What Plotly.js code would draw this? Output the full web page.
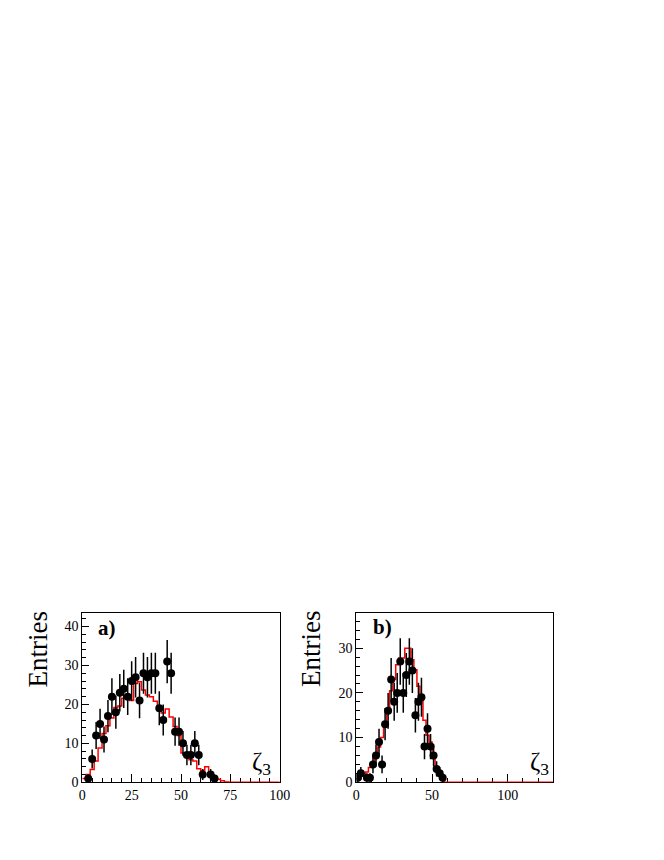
<!DOCTYPE html>
<html>
<head>
<meta charset="utf-8">
<script src="https://cdn.plot.ly/plotly-3.0.1.min.js"></script>
<style>html,body{margin:0;padding:0;background:#fff;}#chart{width:664px;height:860px;}</style>
</head>
<body>
<div id="chart"></div>
<script>
// ---- Panel a) data (bin width 2) ----
const aCenters = [3,5,7,9,11,13,15,17,19,21,23,25,27,29,31,33,35,37,39,41,43,45,47,49,51,53,55,57,59,61,65,67];
const aCounts  = [1,6,12,15,11,17,22,18,23,24,22,26,27,21,28,27,28,28,19,16,31,28,13,13,10,7,7,10,7,2,2,1];
const aErrors  = [1,2.45,3.46,3.87,3.32,4.12,4.69,4.24,4.80,4.90,4.69,5.10,5.20,4.58,5.29,5.20,5.29,5.29,4.36,4.00,5.57,5.29,3.61,3.61,3.16,2.65,2.65,3.16,2.65,1.41,1.41,1.00];
// simulation histogram, bins of width 2 from 0 to 100
const aMC = [1.0,2.0,3.3,5.5,8.8,12.5,14.5,16.5,19.2,19.6,21.6,21.5,21.0,25.4,25.8,23.7,22.4,22.0,20.8,19.0,
             17.8,18.8,16.8,14.3,12.0,7.5,7.3,5.8,5.5,3.5,3.0,4.0,2.5,1.5,0.8,0.4,0.1,0,0,0,
             0,0,0,0,0,0,0,0,0,0];

// ---- Panel b) data (bin width 2) ----
const bCenters = [1,3,7,9,11,13,15,17,19,21,23,25,27,29,31,33,35,37,39,41,43,45,47,49,51,53,55,57];
const bCounts  = [1,2,1,1,4,6,9,4,13,16,23,18,20,27,20,24,27,25,15,18,19,8,12,8,6,3,2,1];
const bErrors  = [1,1.41,1,1,2,2.45,3,2,3.61,4,4.80,4.24,4.47,5.20,4.47,4.90,5.20,5,3.87,4.24,4.36,2.83,3.46,2.83,2.45,1.73,1.41,1];
// simulation histogram, bins of width 2 from 0 to 130
const bMC = [0.8,1.6,1.6,2.3,3.3,4.5,6.0,7.9,10.0,13.1,16.1,20.5,23.0,26.3,27.8,27.8,30.0,30.0,27.4,25.2,
             21.5,18.3,13.9,10.5,9.0,5.3,3.1,1.6,0.4,0,0,0,0,0,0,0,0,0,0,0,
             0,0,0,0,0,0,0,0,0,0,0,0,0,0,0,0,0,0,0,0,0,0,0,0,0];

const binWidth = 2;
const aTicks = {dtick: 25, minor: 5};
const bTicks = {dtick: 50, minor: 10};

function edgesFor(mc) {
  const xs = [], ys = [];
  for (let i = 0; i < mc.length; i++) { xs.push(i * binWidth); ys.push(mc[i]); }
  xs.push(mc.length * binWidth); ys.push(mc[mc.length - 1]);
  return {xs, ys};
}
const aStep = edgesFor(aMC), bStep = edgesFor(bMC);

const W = 664, H = 860;
const serif = "'Liberation Serif', 'Times New Roman', Times, serif";

const traces = [
  {x: aStep.xs, y: aStep.ys, xaxis: 'x', yaxis: 'y', mode: 'lines', line: {shape: 'hv', color: '#ff0000', width: 1.5}, hoverinfo: 'skip'},
  {x: aCenters, y: aCounts, xaxis: 'x', yaxis: 'y', mode: 'markers', marker: {color: '#000', size: 8},
   error_y: {type: 'data', array: aErrors, visible: true, color: '#000', thickness: 1.5, width: 0}},
  {x: bStep.xs, y: bStep.ys, xaxis: 'x2', yaxis: 'y2', mode: 'lines', line: {shape: 'hv', color: '#ff0000', width: 1.5}, hoverinfo: 'skip'},
  {x: bCenters, y: bCounts, xaxis: 'x2', yaxis: 'y2', mode: 'markers', marker: {color: '#000', size: 8},
   error_y: {type: 'data', array: bErrors, visible: true, color: '#000', thickness: 1.5, width: 0}}
];

function xAxis(domain, range, t, anchor) {
  return {domain: domain, range: range, anchor: anchor, tickmode: 'linear', tick0: 0, dtick: t.dtick,
    ticks: 'inside', ticklen: 8, tickwidth: 1, tickcolor: '#000',
    minor: {dtick: t.minor, tick0: 0, ticks: 'inside', ticklen: 4, tickwidth: 1, tickcolor: '#000', showgrid: false},
    showline: true, mirror: true, linecolor: '#000', linewidth: 1, showgrid: false, zeroline: false,
    layer: 'below traces', tickfont: {family: serif, size: 14, color: '#000'}, fixedrange: true};
}
function yAxis(domain, range, anchor) {
  return {domain: domain, range: range, anchor: anchor, tickmode: 'linear', tick0: 0, dtick: 10,
    ticks: 'inside', ticklen: 7, tickwidth: 1, tickcolor: '#000',
    minor: {dtick: 2, tick0: 0, ticks: 'inside', ticklen: 4, tickwidth: 1, tickcolor: '#000', showgrid: false},
    showline: true, mirror: true, linecolor: '#000', linewidth: 1, showgrid: false, zeroline: false,
    layer: 'below traces', tickfont: {family: serif, size: 14, color: '#000'}, fixedrange: true};
}
const yDom = [1 - 782.3 / H, 1 - 613.3 / H];

function ann(text, px, py, size, extra) {
  return Object.assign({text: text, x: px / W, y: 1 - py / H, xref: 'paper', yref: 'paper', showarrow: false,
    font: {family: serif, size: size, color: '#000'}, xanchor: 'center', yanchor: 'middle'}, extra || {});
}

const layout = {
  width: W, height: H, margin: {l: 0, r: 0, t: 0, b: 0},
  paper_bgcolor: '#fff', plot_bgcolor: '#fff', showlegend: false,
  font: {family: serif, color: '#000'},
  xaxis: xAxis([82.3 / W, 279.7 / W], [0, 100], aTicks, 'y'),
  yaxis: yAxis(yDom, [0, 43.4], 'x'),
  xaxis2: xAxis([356.3 / W, 553.3 / W], [0, 130], bTicks, 'y2'),
  yaxis2: yAxis(yDom, [0, 37.8], 'x2'),
  annotations: [
    ann('Entries', 37, 649.5, 27, {textangle: -90}),
    ann('Entries', 310.5, 649.5, 27, {textangle: -90}),
    ann('<b>a)</b>', 107.5, 628, 21),
    ann('<b>b)</b>', 382.5, 627, 21),
    ann('ζ<sub>3</sub>', 261, 763, 25),
    ann('ζ<sub>3</sub>', 539, 763, 25)
  ]
};

Plotly.newPlot('chart', traces, layout, {displayModeBar: false, staticPlot: true});
</script>
</body>
</html>
